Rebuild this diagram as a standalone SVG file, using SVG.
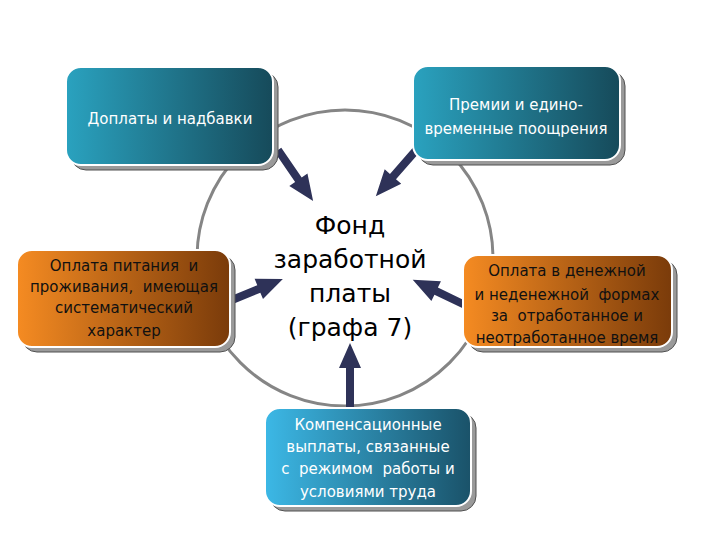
<svg xmlns="http://www.w3.org/2000/svg" width="720" height="540" viewBox="0 0 720 540">
<defs>
<linearGradient id="gTeal" x1="0" y1="0" x2="1" y2="0">
<stop offset="0" stop-color="#2aa2bf"/><stop offset="1" stop-color="#164a5a"/>
</linearGradient>
<linearGradient id="gBlue" x1="0" y1="0" x2="1" y2="0">
<stop offset="0" stop-color="#3cb8e6"/><stop offset="1" stop-color="#1a5269"/>
</linearGradient>
<linearGradient id="gOrange" x1="0" y1="0" x2="1" y2="0">
<stop offset="0" stop-color="#f58b22"/><stop offset="1" stop-color="#7a3b0a"/>
</linearGradient>
<style>
.shadow{fill:#9a9a9a;stroke:#505050;stroke-width:1}
.box{stroke:#ffffff;stroke-width:2}
text{white-space:pre}
.tw{font-family:"DejaVu Sans",sans-serif;font-size:15px;fill:#ffffff;text-anchor:middle}
.tb{font-family:"DejaVu Sans",sans-serif;font-size:15px;fill:#111111;text-anchor:middle}
.tc{font-family:"DejaVu Sans",sans-serif;font-size:25px;fill:#000000;text-anchor:middle}
.arrow{fill:#2e3258}
</style>
</defs>
<rect width="720" height="540" fill="#ffffff"/>
<circle cx="345" cy="258" r="148" fill="none" stroke="#858585" stroke-width="3"/>
<g id="connectors">
<polygon class="arrow" transform="translate(278,150) rotate(55.5)" points="0,-4 36,-4 36,-11 62,0 36,11 36,4 0,4"/>
<polygon class="arrow" transform="translate(418,148) rotate(131.2)" points="0,-4 38,-4 38,-11 64,0 38,11 38,4 0,4"/>
<polygon class="arrow" transform="translate(232,300) rotate(-22.4)" points="0,-4 29,-4 29,-11 55,0 29,11 29,4 0,4"/>
<polygon class="arrow" transform="translate(465,305) rotate(205.7)" points="0,-4 32,-4 32,-11 58,0 32,11 32,4 0,4"/>
<polygon class="arrow" transform="translate(350,408) rotate(-90)" points="0,-4 40,-4 40,-11 65,0 40,11 40,4 0,4"/>
</g>
<g id="node-doplaty">
<rect class="shadow" x="71" y="72" width="207" height="98" rx="15"/>
<rect class="box" x="66" y="67" width="207" height="98" rx="15" fill="url(#gTeal)"/>
<text class="tw" x="170" y="124">Доплаты и надбавки</text>
</g>
<g id="node-premii">
<rect class="shadow" x="418" y="71" width="207" height="94" rx="15"/>
<rect class="box" x="413" y="66" width="207" height="94" rx="15" fill="url(#gTeal)"/>
<text class="tw" x="516" y="110">Премии и едино-</text>
<text class="tw" x="516" y="134">временные поощрения</text>
</g>
<g id="node-pitanie">
<rect class="shadow" x="22" y="255" width="213" height="97" rx="15"/>
<rect class="box" x="17" y="250" width="213" height="97" rx="15" fill="url(#gOrange)"/>
<text class="tb" x="124" y="271">Оплата питания  и</text>
<text class="tb" x="124" y="292">проживания,  имеющая</text>
<text class="tb" x="124" y="313">систематический</text>
<text class="tb" x="124" y="336">характер</text>
</g>
<g id="node-denezhn">
<rect class="shadow" x="468" y="260" width="209" height="92" rx="15"/>
<rect class="box" x="463" y="255" width="209" height="92" rx="15" fill="url(#gOrange)"/>
<text class="tb" x="567" y="276">Оплата в денежной</text>
<text class="tb" x="567" y="300">и неденежной  формах</text>
<text class="tb" x="567" y="321">за  отработанное и</text>
<text class="tb" x="567" y="343">неотработанное время</text>
</g>
<g id="node-komp">
<rect class="shadow" x="270" y="413" width="206" height="98" rx="15"/>
<rect class="box" x="265" y="408" width="206" height="98" rx="15" fill="url(#gBlue)"/>
<text class="tw" x="368" y="430">Компенсационные</text>
<text class="tw" x="368" y="452">выплаты, связанные</text>
<text class="tw" x="368" y="474">с  режимом  работы и</text>
<text class="tw" x="368" y="497">условиями труда</text>
</g>
<g id="node-fond">
<text class="tc" x="350" y="234">Фонд</text>
<text class="tc" x="350" y="268">заработной</text>
<text class="tc" x="350" y="302">платы</text>
<text class="tc" x="350" y="336">(графа 7)</text>
</g>
</svg>
